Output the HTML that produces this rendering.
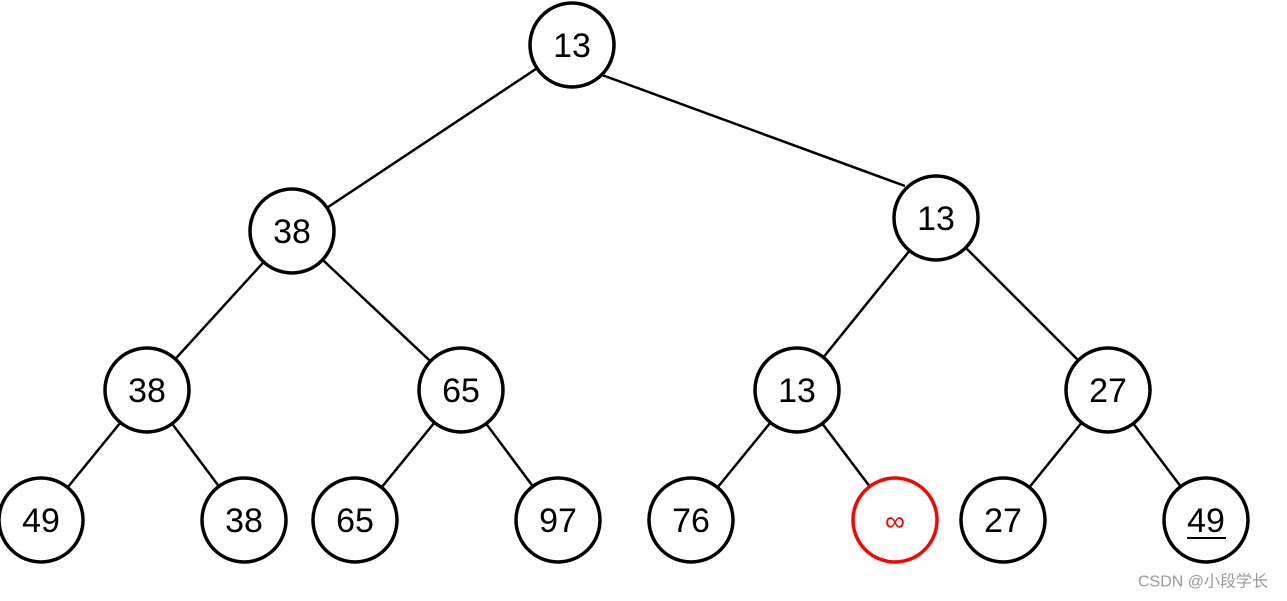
<!DOCTYPE html>
<html><head><meta charset="utf-8"><style>
html,body{margin:0;padding:0;background:#fff;}
svg{display:block}
text{font-family:"Liberation Sans",Arial,sans-serif;font-size:34px;text-anchor:middle;dominant-baseline:central}
</style></head><body>
<svg width="1287" height="601" viewBox="0 0 1287 601">
<g stroke="#000" stroke-width="2.5">
<line x1="572" y1="45" x2="292" y2="231"/>
<line x1="602" y1="75" x2="905" y2="186"/>
<line x1="292" y1="231" x2="147" y2="390"/>
<line x1="292" y1="231" x2="461" y2="390"/>
<line x1="936" y1="218" x2="797" y2="390"/>
<line x1="936" y1="218" x2="1108" y2="390"/>
<line x1="147" y1="390" x2="41" y2="520"/>
<line x1="147" y1="390" x2="244" y2="520"/>
<line x1="461" y1="390" x2="355" y2="520"/>
<line x1="461" y1="390" x2="558" y2="520"/>
<line x1="797" y1="390" x2="691" y2="520"/>
<line x1="797" y1="390" x2="895" y2="520"/>
<line x1="1108" y1="390" x2="1003" y2="520"/>
<line x1="1108" y1="390" x2="1206" y2="520"/>
</g>
<g fill="#fff" stroke="#000" stroke-width="3.5">
<circle cx="572" cy="45" r="42"/>
<circle cx="292" cy="231" r="42"/>
<circle cx="936" cy="218" r="42"/>
<circle cx="147" cy="390" r="42"/>
<circle cx="461" cy="390" r="42"/>
<circle cx="797" cy="390" r="42"/>
<circle cx="1108" cy="390" r="42"/>
<circle cx="41" cy="520" r="42"/>
<circle cx="244" cy="520" r="42"/>
<circle cx="355" cy="520" r="42"/>
<circle cx="558" cy="520" r="42"/>
<circle cx="691" cy="520" r="42"/>
<circle cx="895" cy="520" r="42" stroke="#f00"/>
<circle cx="1003" cy="520" r="42"/>
<circle cx="1206" cy="520" r="42"/>
</g>
<g fill="#000">
<text x="572" y="46">13</text>
<text x="292" y="232">38</text>
<text x="936" y="219">13</text>
<text x="147" y="391">38</text>
<text x="461" y="391">65</text>
<text x="797" y="391">13</text>
<text x="1108" y="391">27</text>
<text x="41" y="521">49</text>
<text x="244" y="521">38</text>
<text x="355" y="521">65</text>
<text x="558" y="521">97</text>
<text x="691" y="521">76</text>
<text x="895" y="521" fill="#f00" style="font-size:28px">∞</text>
<text x="1003" y="521">27</text>
<text x="1206" y="521">49</text>
</g>
<line x1="1187" y1="538" x2="1226" y2="538" stroke="#000" stroke-width="2"/>
<text x="1203" y="582" style="font-size:16px;fill:#999;font-family:'Liberation Sans','Noto Sans CJK SC',sans-serif">CSDN @小段学长</text>
</svg>
</body></html>
